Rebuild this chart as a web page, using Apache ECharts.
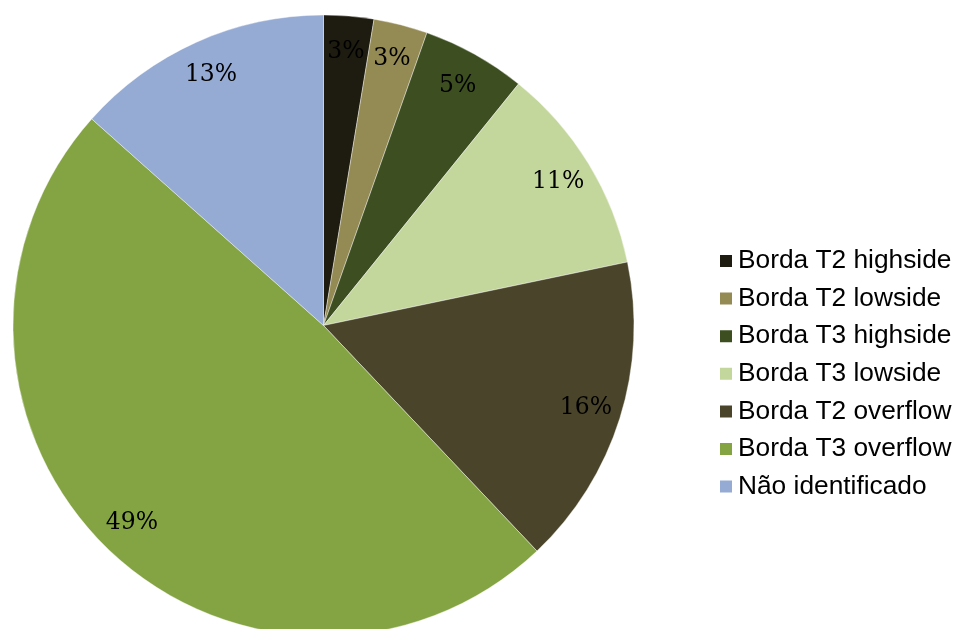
<!DOCTYPE html>
<html>
<head>
<meta charset="utf-8">
<script src="https://cdn.jsdelivr.net/npm/echarts@6/dist/echarts.min.js"></script>
<style>
  html, body { margin: 0; padding: 0; background: #fff; }
  #chart { width: 957px; height: 629px; }
</style>
</head>
<body>
<div id="chart"></div>
<script>
// Share of events by region
const categories = [
  'Borda T2 highside',
  'Borda T2 lowside',
  'Borda T3 highside',
  'Borda T3 lowside',
  'Borda T2 overflow',
  'Borda T3 overflow',
  'Não identificado'
];
const shares = [2.6, 2.8, 5.4, 10.9, 16.2, 48.6, 13.4];
const sliceColors = ['#1e1b10', '#948a54', '#3d4f21', '#c3d69b', '#4a452a', '#84a443', '#95abd3'];

const data = categories.map((name, i) => ({
  name,
  value: shares[i],
  itemStyle: { color: sliceColors[i] }
}));

const chart = echarts.init(document.getElementById('chart'), null, { renderer: 'canvas' });

const CX = 323.5, CY = 325.5, R = 310.5;

chart.setOption({
  animation: false,
  backgroundColor: '#ffffff',
  legend: {
    orient: 'vertical',
    left: 718,
    top: 248,
    padding: 0,
    itemWidth: 14,
    itemHeight: 14,
    itemGap: 11.6,
    icon: 'rect',
    selectedMode: false,
    data: categories,
    textStyle: {
      fontFamily: 'Liberation Sans, Arial, sans-serif',
      fontSize: 26.3,
      lineHeight: 26,
      color: '#000'
    }
  },
  series: [
    {
      type: 'pie',
      center: [CX, CY],
      radius: [0, R],
      startAngle: 90,
      clockwise: true,
      silent: true,
      label: { show: false },
      labelLine: { show: false },
      itemStyle: { borderColor: '#ffffff', borderWidth: 0.4 },
      data
    },
    {
      // transparent ring used only to place the percentage labels
      type: 'pie',
      center: [CX, CY],
      radius: [244, 300],
      startAngle: 90,
      clockwise: true,
      silent: true,
      itemStyle: { color: 'rgba(0,0,0,0)' },
      labelLine: { show: false },
      label: {
        show: true,
        position: 'inside',
        formatter: p => Math.round(p.percent) + '%',
        fontFamily: 'DejaVu Serif, serif',
        fontSize: 23.5,
        color: '#000'
      },
      data: categories.map((name, i) => ({ name, value: shares[i] }))
    }
  ]
});
</script>
</body>
</html>
